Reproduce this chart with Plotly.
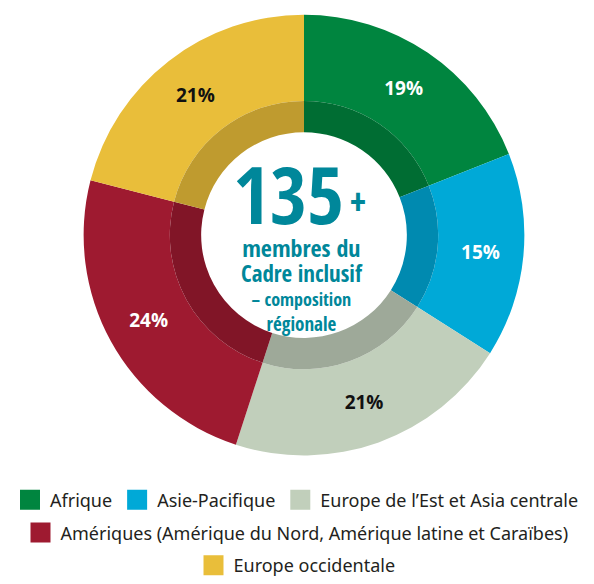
import plotly.graph_objects as go

regions = ["Afrique", "Asie-Pacifique", "Europe de l\u2019Est et Asia centrale",
           "Am\u00e9riques (Am\u00e9rique du Nord, Am\u00e9rique latine et Cara\u00efbes)",
           "Europe occidentale"]
shares = [19, 15, 21, 24, 21]
colors = ["#00853F", "#00A9D7", "#C1CFBB", "#9E1A30", "#E9BE3A"]
label_colors = ["white", "white", "#111111", "white", "#111111"]
legend_rows = ["legend", "legend", "legend", "legend2", "legend3"]
center_number = "135"
center_lines = ["membres du", "Cadre inclusif", "\u2013 composition", "r\u00e9gionale"]


def darken(hex_color, f=0.82):
    h = hex_color.lstrip("#")
    r, g, b = (int(h[i:i + 2], 16) for i in (0, 2, 4))
    return "rgb(%d,%d,%d)" % (r * f, g * f, b * f)


W, H = 594, 584
cx, cy = 304, 240
R_out, R_mid, R_in = 225, 137, 105


def dom(r):
    return dict(x=[(cx - r) / W, (cx + r) / W], y=[1 - (cy + r) / H, 1 - (cy - r) / H])


fig = go.Figure()
fig.add_trace(go.Pie(
    labels=regions, values=shares, sort=False, direction="clockwise", rotation=0,
    hole=R_mid / R_out, domain=dom(R_out),
    marker=dict(colors=colors, line=dict(width=0)),
    texttemplate="%{value}%", textposition="inside", insidetextorientation="horizontal",
    textfont=dict(family="Open Sans", size=19, color=label_colors, weight="bold"),
    showlegend=False, hoverinfo="label+percent",
))
fig.add_trace(go.Pie(
    labels=regions, values=shares, sort=False, direction="clockwise", rotation=0,
    hole=R_in / R_mid, domain=dom(R_mid),
    marker=dict(colors=[darken(c) for c in colors], line=dict(width=0)),
    textinfo="none", showlegend=False, hoverinfo="label+percent",
))

for name, col, lg in zip(regions, colors, legend_rows):
    fig.add_trace(go.Scatter(
        x=[None], y=[None], mode="markers", name=name, legend=lg,
        marker=dict(symbol="square", size=20, color=col, line=dict(width=4, color=col)),
    ))

teal = "#00879A"
cond = "Open Sans Condensed, Roboto Condensed, sans-serif"


def ann(text, px, py, size, **kw):
    fig.add_annotation(text=text, x=px / W, y=1 - py / H, xref="paper", yref="paper",
                       showarrow=False, xanchor="center", yanchor="middle", align="center",
                       font=dict(family=cond, size=size, color=teal, weight="bold"), **kw)


ann(center_number, 288, 197, 80)
ann("+", 358, 205, 40)
line_sizes = [24, 23, 18, 19]
block = "<br>".join("<span style='font-size:%dpx'>%s</span>" % (s, t)
                    for s, t in zip(line_sizes, center_lines))
ann(block, 302, 290, 19)

legend_common = dict(orientation="h", xanchor="center", x=0.5, yanchor="middle",
                     font=dict(family="Noto Sans", size=18, color="#231F20"),
                     itemsizing="trace", bgcolor="rgba(0,0,0,0)", itemclick=False)
fig.update_layout(
    width=W, height=H, margin=dict(l=0, r=0, t=0, b=0),
    paper_bgcolor="white", plot_bgcolor="white",
    xaxis=dict(visible=False), yaxis=dict(visible=False),
    legend=dict(y=1 - 510.5 / H, **legend_common),
    legend2=dict(y=1 - 544 / H, **legend_common),
    legend3=dict(y=1 - 577.5 / H, **legend_common),
)

fig.write_html("out.html")
